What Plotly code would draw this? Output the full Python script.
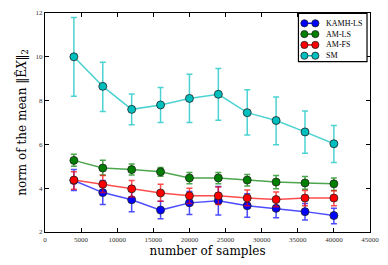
import plotly.graph_objects as go

samples = [4000, 8000, 12000, 16000, 20000, 24000, 28000, 32000, 36000, 40000]

kamh_ls = [4.35, 3.80, 3.47, 3.00, 3.33, 3.43, 3.20, 3.08, 2.93, 2.75]
kamh_ls_hi = [4.85, 4.35, 4.00, 3.40, 3.85, 4.08, 3.75, 3.50, 3.30, 3.08]
kamh_ls_lo = [3.90, 3.25, 2.92, 2.60, 2.80, 2.78, 2.67, 2.65, 2.55, 2.38]

am_ls = [5.27, 4.92, 4.85, 4.75, 4.47, 4.47, 4.37, 4.28, 4.24, 4.20]
am_ls_hi = [5.55, 5.28, 5.10, 4.95, 4.72, 4.72, 4.62, 4.58, 4.53, 4.47]
am_ls_lo = [5.00, 4.60, 4.60, 4.55, 4.20, 4.20, 4.10, 3.97, 3.95, 3.90]

am_fs = [4.37, 4.18, 3.97, 3.78, 3.65, 3.65, 3.55, 3.48, 3.55, 3.55]
am_fs_hi = [4.75, 4.58, 4.35, 4.18, 4.00, 4.05, 3.92, 3.83, 3.90, 3.88]
am_fs_lo = [3.95, 3.80, 3.60, 3.40, 3.30, 3.25, 3.20, 3.15, 3.20, 3.20]

sm = [10.0, 8.65, 7.60, 7.80, 8.10, 8.29, 7.45, 7.09, 6.57, 6.03]
sm_hi = [11.8, 9.75, 8.30, 8.60, 9.20, 9.47, 8.50, 8.17, 7.52, 6.86]
sm_lo = [8.2, 7.50, 6.90, 7.00, 7.00, 7.10, 6.43, 5.98, 5.60, 5.17]

x_ticks = [0, 5000, 10000, 15000, 20000, 25000, 30000, 35000, 40000, 45000]
y_ticks = [2, 4, 6, 8, 10, 12]

series = [
    ("KAMH-LS", kamh_ls, kamh_ls_hi, kamh_ls_lo, "#0000ff", "rgba(0,0,255,0.7)"),
    ("AM-LS", am_ls, am_ls_hi, am_ls_lo, "#008000", "rgba(0,128,0,0.7)"),
    ("AM-FS", am_fs, am_fs_hi, am_fs_lo, "#ff0000", "rgba(255,0,0,0.7)"),
    ("SM", sm, sm_hi, sm_lo, "#00bfbf", "rgba(0,191,191,0.7)"),
]

W, H = 388, 265
ML, MR, MT, MB = 45, 16, 9, 33
PW, PH = W - ML - MR, H - MT - MB


def px_x(p):
    return (p - ML) / PW


def px_y(p):
    return (H - MB - p) / PH


fig = go.Figure()
for name, y, hi, lo, col, lcol in series:
    fig.add_trace(go.Scatter(
        x=samples, y=y, name=name, mode="lines+markers", showlegend=False,
        line=dict(color=lcol, width=1.5),
        marker=dict(color=col, size=8, line=dict(color="#222222", width=0.8)),
        error_y=dict(type="data", symmetric=False,
                     array=[h - v for h, v in zip(hi, y)],
                     arrayminus=[v - l for v, l in zip(y, lo)],
                     color=lcol, thickness=1.5, width=3),
    ))

# compact matplotlib-style legend box (top-right)
shapes = [dict(type="rect", xref="paper", yref="paper",
               x0=px_x(300), x1=px_x(369), y0=px_y(58.5), y1=px_y(9.5),
               fillcolor="white", line=dict(color="black", width=1.2), layer="above")]
annotations = []
row_y = [19.5, 30.5, 41.5, 52.5]
for (name, y, hi, lo, col, lcol), ry in zip(series, row_y):
    yy = px_y(ry)
    shapes.append(dict(type="line", xref="paper", yref="paper",
                       x0=px_x(306), x1=px_x(317), y0=yy, y1=yy,
                       line=dict(color=col, width=1.5), layer="above"))
    for cx in (306, 317):
        shapes.append(dict(type="circle", xref="paper", yref="paper",
                           xsizemode="pixel", ysizemode="pixel",
                           xanchor=px_x(cx), yanchor=yy,
                           x0=-3.6, x1=3.6, y0=-3.6, y1=3.6,
                           fillcolor=col, line=dict(color="#222222", width=0.8),
                           layer="above"))
    annotations.append(dict(xref="paper", yref="paper", x=px_x(326), y=yy,
                            xanchor="left", yanchor="middle", showarrow=False,
                            text=name, font=dict(family="Liberation Serif", size=8, color="black")))

axis_common = dict(
    showgrid=False, zeroline=False, showline=True, linecolor="black", linewidth=1.2,
    mirror="ticks", ticks="inside", ticklen=4, tickcolor="black",
    tickfont=dict(family="Liberation Serif", size=7, color="#333333"),
)

fig.update_layout(
    width=W, height=H,
    margin=dict(l=ML, r=MR, t=MT, b=MB),
    paper_bgcolor="white", plot_bgcolor="white",
    font=dict(family="DejaVu Serif", color="black"),
    showlegend=False,
    shapes=shapes, annotations=annotations,
    xaxis=dict(range=[-0.01, 45000.01], tickvals=x_ticks,
               ticktext=[str(v) for v in x_ticks],
               title=dict(text="number of samples", font=dict(size=12), standoff=4),
               **axis_common),
    yaxis=dict(range=[2, 12], tickvals=y_ticks,
               ticktext=[str(v) for v in y_ticks],
               title=dict(text="norm of the mean ‖Ê<i>X</i>‖<sub>2</sub>", font=dict(size=12), standoff=6),
               **axis_common),
)

fig.write_html("out.html", config={"displayModeBar": False},
               post_script="document.body.style.margin='0';document.body.style.padding='0';")
